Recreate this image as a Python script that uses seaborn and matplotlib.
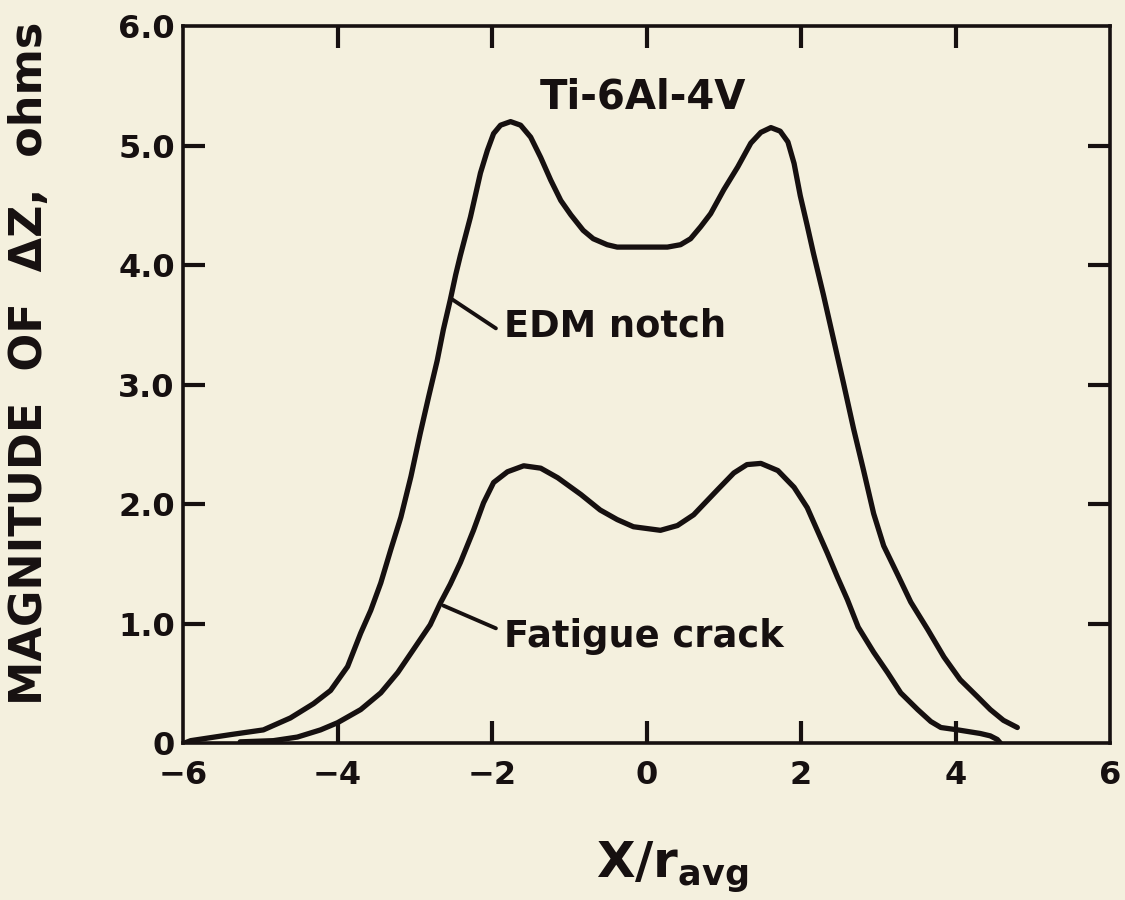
import matplotlib
matplotlib.use("Agg")
import matplotlib.pyplot as plt
import seaborn as sns
import pandas as pd

# EDM notch curve
edm_x = [-5.98, -5.90, -5.39, -4.96, -4.61, -4.31, -4.09, -3.87, -3.70, -3.57, -3.44, -3.31,
         -3.18, -3.05, -2.93, -2.82, -2.71, -2.63, -2.54, -2.47, -2.41, -2.28, -2.15, -2.06,
         -1.98, -1.89, -1.76, -1.63, -1.50, -1.37, -1.24, -1.11, -0.98, -0.82, -0.69, -0.51,
         -0.38, 0.27, 0.44, 0.57, 0.70, 0.83, 1.00, 1.18, 1.35, 1.48, 1.61, 1.73, 1.83,
         1.91, 1.99, 2.08, 2.16, 2.29, 2.42, 2.55, 2.68, 2.81, 2.94, 3.07, 3.25, 3.42,
         3.64, 3.85, 4.06, 4.28, 4.45, 4.62, 4.80]
edm_y = [0.00, 0.02, 0.07, 0.11, 0.21, 0.33, 0.44, 0.64, 0.92, 1.11, 1.34, 1.62,
         1.89, 2.23, 2.59, 2.90, 3.20, 3.46, 3.71, 3.92, 4.08, 4.40, 4.77, 4.96,
         5.10, 5.17, 5.20, 5.17, 5.07, 4.90, 4.71, 4.54, 4.42, 4.29, 4.22, 4.17,
         4.15, 4.15, 4.17, 4.22, 4.32, 4.43, 4.63, 4.82, 5.02, 5.11, 5.15, 5.12, 5.03,
         4.85, 4.58, 4.33, 4.10, 3.75, 3.38, 3.01, 2.63, 2.28, 1.92, 1.65, 1.41, 1.18,
         0.95, 0.72, 0.53, 0.39, 0.28, 0.19, 0.13]

# Fatigue crack curve
fat_x = [-5.26, -4.83, -4.52, -4.22, -4.00, -3.70, -3.44, -3.22, -3.02, -2.80, -2.67, -2.54,
         -2.41, -2.24, -2.11, -1.98, -1.80, -1.59, -1.37, -1.15, -0.85, -0.60,
         -0.38, -0.17, 0.18, 0.40, 0.61, 0.92, 1.13, 1.30, 1.48, 1.70, 1.91, 2.08, 2.21,
         2.34, 2.47, 2.60, 2.74, 2.94, 3.12, 3.29, 3.51, 3.68, 3.81, 4.03, 4.32, 4.45,
         4.54, 4.58]
fat_y = [0.01, 0.02, 0.05, 0.11, 0.17, 0.28, 0.42, 0.59, 0.78, 0.99, 1.17, 1.33,
         1.51, 1.78, 2.01, 2.18, 2.27, 2.32, 2.30, 2.22, 2.08, 1.95,
         1.87, 1.81, 1.78, 1.82, 1.91, 2.12, 2.26, 2.33, 2.34, 2.28, 2.14, 1.97, 1.78,
         1.59, 1.39, 1.20, 0.97, 0.76, 0.59, 0.42, 0.28, 0.18, 0.13, 0.11, 0.08, 0.06,
         0.03, 0.00]

x_ticks = [-6, -4, -2, 0, 2, 4, 6]
x_tick_labels = ["\u22126", "\u22124", "\u22122", "0", "2", "4", "6"]
y_ticks = [0, 1, 2, 3, 4, 5, 6]
y_tick_labels = ["0", "1.0", "2.0", "3.0", "4.0", "5.0", "6.0"]

df = pd.concat([
    pd.DataFrame({"x": edm_x, "y": edm_y, "series": "EDM notch"}),
    pd.DataFrame({"x": fat_x, "y": fat_y, "series": "Fatigue crack"}),
])

bg = "#f4f0de"
ink = "#161010"

sns.set_style("ticks")
plt.rcParams["font.family"] = ["DejaVu Sans"]
plt.rcParams["font.weight"] = "bold"
plt.rcParams["mathtext.fontset"] = "dejavusans"

fig = plt.figure(figsize=(11.25, 9), dpi=100, facecolor=bg)
ax = fig.add_axes([0.1627, 0.1744, 0.824, 0.7967])
ax.set_facecolor(bg)

sns.lineplot(data=df, x="x", y="y", hue="series", palette=[ink, ink], legend=False,
             linewidth=3.8, sort=False, ax=ax, estimator=None)
for ln in ax.lines:
    ln.set_solid_capstyle("round")
    ln.set_solid_joinstyle("round")

ax.set_xlim(-6, 6)
ax.set_ylim(0, 6)
ax.set_xticks(x_ticks)
ax.set_xticklabels(x_tick_labels)
ax.set_yticks(y_ticks)
ax.set_yticklabels(y_tick_labels)
ax.tick_params(direction="in", length=16, width=3.0, color=ink, labelsize=23,
               labelcolor=ink, top=True, right=True)
ax.tick_params(axis="x", pad=12)
ax.tick_params(axis="y", pad=6)
for lab in ax.get_xticklabels() + ax.get_yticklabels():
    lab.set_fontweight("bold")
# no tick marks at the frame corners
for axis in (ax.xaxis, ax.yaxis):
    ticks = axis.get_major_ticks()
    for t in (ticks[0], ticks[-1]):
        t.tick1line.set_visible(False)
        t.tick2line.set_visible(False)
for s in ax.spines.values():
    s.set_linewidth(2.6)
    s.set_color(ink)

ax.set_xlabel(r"$\mathbf{X/r_{avg}}$", fontsize=36, color=ink)
ax.xaxis.set_label_coords(0.5275, -0.135)
ax.set_ylabel("MAGNITUDE  OF  \u0394Z,  ohms", fontsize=32, fontweight="bold",
              color=ink)
ax.yaxis.set_label_coords(-0.142, 0.530)

ax.text(-0.05, 5.31, "Ti-6Al-4V", fontsize=29, fontweight="bold", color=ink,
        ha="center", va="baseline")
ax.text(-1.85, 3.40, "EDM notch", fontsize=26.5, fontweight="bold", color=ink,
        ha="left", va="baseline")
ax.text(-1.85, 0.80, "Fatigue crack", fontsize=26.5, fontweight="bold", color=ink,
        ha="left", va="baseline")
ax.plot([-2.51, -1.95], [3.71, 3.47], color=ink, lw=2.8, solid_capstyle="round")
ax.plot([-2.63, -1.95], [1.15, 0.96], color=ink, lw=2.8, solid_capstyle="round")

fig.savefig("out.png", dpi=100, facecolor=bg)
